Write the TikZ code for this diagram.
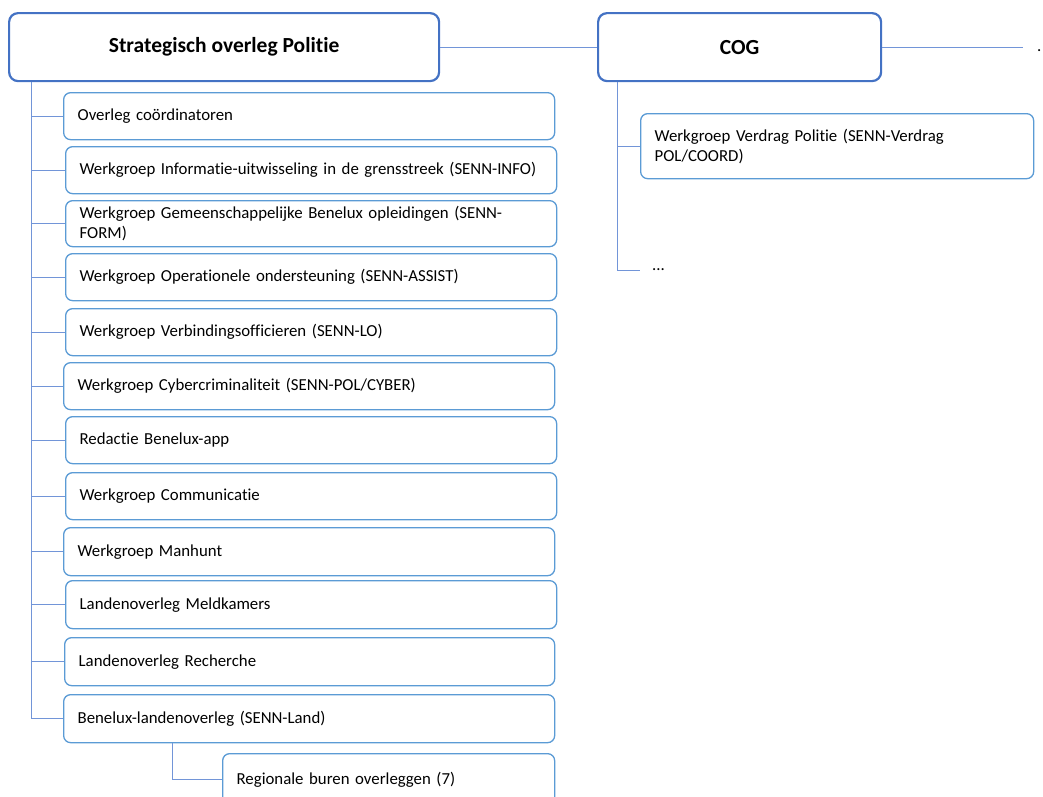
\documentclass[tikz,border=0pt]{standalone}
\usepackage{fontspec}
\setmainfont{Carlito}[Ligatures=NoCommon]
\usetikzlibrary{positioning,calc}
\definecolor{frameblue}{HTML}{4472C4}
\definecolor{boxblue}{HTML}{5B9BD5}
\definecolor{linkblue}{HTML}{7295D8}

\begin{document}
\begin{tikzpicture}[x=1pt, y=-1pt, font=\fontsize{16.8}{20}\selectfont,
  topbox/.style={draw=frameblue, line width=2.2pt, rounded corners=9pt, fill=white,
    anchor=north west, minimum height=68pt, font=\fontsize{21.5}{24}\selectfont\bfseries},
  subbox/.style={draw=boxblue, line width=1.3pt, rounded corners=7pt, fill=white,
    anchor=north west, minimum height=47pt, text width=#1, inner xsep=14pt, align=left},
  subbox/.default=463pt,
  conn/.style={linkblue, line width=0.9pt}]
  \useasboundingbox (0,0) rectangle (1043,796);
  % top level
  \node[topbox, minimum width=430pt] (main) at (8,12) {Strategisch overleg Politie};
  \node[topbox, minimum width=283pt] (cog) at (597,12) {COG};
  \coordinate (endpt) at ([xshift=141pt]cog.east);
  \node[anchor=base west, inner sep=0pt] (dot) at (1037,51) {.};
  \draw[conn] (main.east) -- (cog.west);
  \draw[conn] (cog.east) -- (endpt);
  % groups under Strategisch overleg Politie
  \node[subbox] (c1) at (63,92) {Overleg coördinatoren};
  \node[subbox] (c2) at (65,146) {Werkgroep Informatie-uitwisseling in de grensstreek (SENN-INFO)};
  \node[subbox, minimum height=46pt] (c3) at (65,200) {Werkgroep Gemeenschappelijke Benelux opleidingen (SENN-\\FORM)};
  \node[subbox] (c4) at (65,253) {Werkgroep Operationele ondersteuning (SENN-ASSIST)};
  \node[subbox] (c5) at (65,308) {Werkgroep Verbindingsofficieren (SENN-LO)};
  \node[subbox] (c6) at (63,362) {Werkgroep Cybercriminaliteit (SENN-POL/CYBER)};
  \node[subbox] (c7) at (65,416) {Redactie Benelux-app};
  \node[subbox] (c8) at (65,472) {Werkgroep Communicatie};
  \node[subbox, minimum height=48pt] (c9) at (63,527) {Werkgroep Manhunt};
  \node[subbox, minimum height=48pt] (c10) at (65,580) {Landenoverleg Meldkamers};
  \node[subbox, minimum height=48pt, text width=462pt] (c11) at (64,637) {Landenoverleg Recherche};
  \node[subbox, minimum height=48pt] (c12) at (63,694) {Benelux-landenoverleg (SENN-Land)};
  \node[subbox=304pt, minimum height=52pt] (c13) at (222,753) {Regionale buren overleggen (7)};
  \coordinate (trunk) at ([xshift=23pt]main.south west);
  \foreach \n in {c1,c2,c3,c4,c5,c6,c7,c8,c9,c10,c11,c12}
    \draw[conn] (trunk) |- (\n.west);
  \coordinate (sub) at ([xshift=109pt]c12.south west);
  \draw[conn] (sub) |- (c13.west);
  % groups under COG
  \node[subbox=365pt, minimum height=65pt] (v1) at (640,113) {Werkgroep Verdrag Politie (SENN-Verdrag\\POL/COORD)};
  \node[anchor=west, inner xsep=12pt, inner ysep=0pt] (more) at (640,270) {...};
  \coordinate (cogtrunk) at ([xshift=20pt]cog.south west);
  \draw[conn] (cogtrunk) |- (v1.west);
  \draw[conn] (cogtrunk) |- (more.west);
\end{tikzpicture}
\end{document}
